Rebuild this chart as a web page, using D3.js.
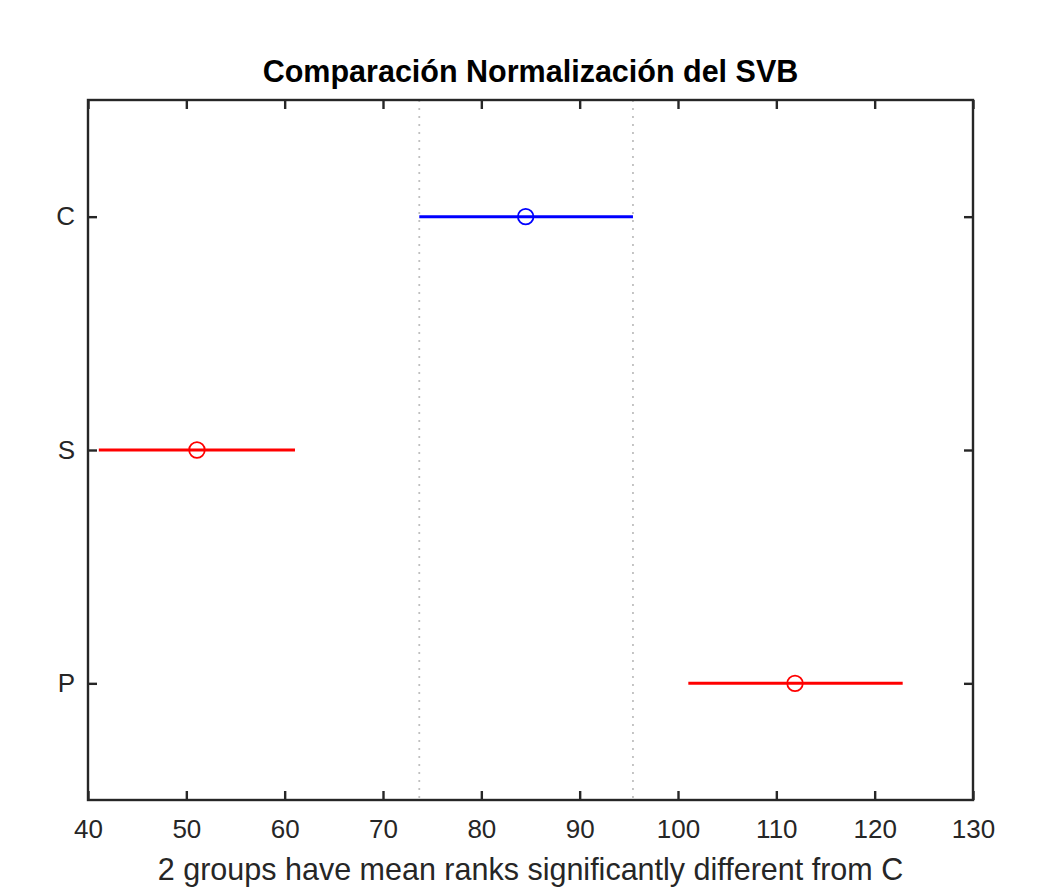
<!DOCTYPE html>
<html><head><meta charset="utf-8">
<script src="https://cdn.jsdelivr.net/npm/d3@7"></script>
<style>body{margin:0;background:#fff;} text{font-family:"Liberation Sans",Arial,Helvetica,sans-serif;}</style>
</head><body>
<svg id="chart" width="1059" height="896"></svg>
<script>
const groups = ["C", "S", "P"];
const means = [84.51, 51.08, 111.9];
const lower = [73.69, 41.1, 101.05];
const upper = [95.42, 61.05, 122.85];
const colors = ["#0000ff", "#ff0000", "#ff0000"];
const xTicks = [40, 50, 60, 70, 80, 90, 100, 110, 120, 130];
const refLines = [73.69, 95.42];
const title = "Comparación Normalización del SVB";
const xLabel = "2 groups have mean ranks significantly different from C";

const svg = d3.select("#chart");
const L = 88, R = 973, T = 100, B = 800;
const x = d3.scaleLinear().domain([40, 130]).range([L, R]);
const y = d3.scaleLinear().domain([0.5, 3.5]).range([B, T]);
const yPos = i => y(groups.length - i);
const axisColor = "#262626";

svg.append("rect").attr("x", L).attr("y", T).attr("width", R - L).attr("height", B - T).attr("fill", "#fff");

// reference dotted lines
svg.selectAll(".ref").data(refLines).enter().append("line")
  .attr("x1", d => x(d)).attr("x2", d => x(d)).attr("y1", T).attr("y2", B)
  .attr("stroke", "#c0c0c0").attr("stroke-width", 1.8).attr("stroke-dasharray", "2,6");

// intervals
groups.forEach((g, i) => {
  svg.append("line").attr("x1", x(lower[i])).attr("x2", x(upper[i]))
    .attr("y1", yPos(i)).attr("y2", yPos(i))
    .attr("stroke", colors[i]).attr("stroke-width", 3);
  svg.append("circle").attr("cx", x(means[i])).attr("cy", yPos(i)).attr("r", 7.8)
    .attr("fill", "none").attr("stroke", colors[i]).attr("stroke-width", 1.8);
});

// axes
const tickLen = 9;
const axB = d3.axisBottom(x).tickValues(xTicks).tickSize(-tickLen).tickPadding(20).tickFormat(d3.format("d"));
const axT = d3.axisTop(x).tickValues(xTicks).tickSize(-tickLen).tickFormat("");
const yScaleBand = d3.scalePoint().domain(groups).range([yPos(0), yPos(groups.length - 1)]);
const axL = d3.axisLeft(yScaleBand).tickSize(-tickLen).tickPadding(13);
const axR = d3.axisRight(yScaleBand).tickSize(-tickLen).tickFormat("");

function style(g) {
  g.select(".domain").remove();
  g.selectAll("line").attr("stroke", axisColor).attr("stroke-width", 2.4);
  g.selectAll("text").attr("fill", axisColor).style("font-size", "26px");
}
svg.append("g").attr("transform", `translate(0,${B})`).call(axB).call(style);
svg.append("g").attr("transform", `translate(0,${T})`).call(axT).call(style);
svg.append("g").attr("transform", `translate(${L},0)`).call(axL).call(style);
svg.append("g").attr("transform", `translate(${R},0)`).call(axR).call(style);

svg.append("rect").attr("x", L).attr("y", T).attr("width", R - L).attr("height", B - T)
  .attr("fill", "none").attr("stroke", axisColor).attr("stroke-width", 2.4);

svg.append("text").attr("x", (L + R) / 2).attr("y", 82).attr("text-anchor", "middle")
  .style("font-size", "30.5px").style("font-weight", "bold").attr("fill", "#000").text(title);
svg.append("text").attr("x", (L + R) / 2).attr("y", 880).attr("text-anchor", "middle")
  .style("font-size", "30.5px").attr("fill", axisColor).text(xLabel);
</script>
</body></html>
